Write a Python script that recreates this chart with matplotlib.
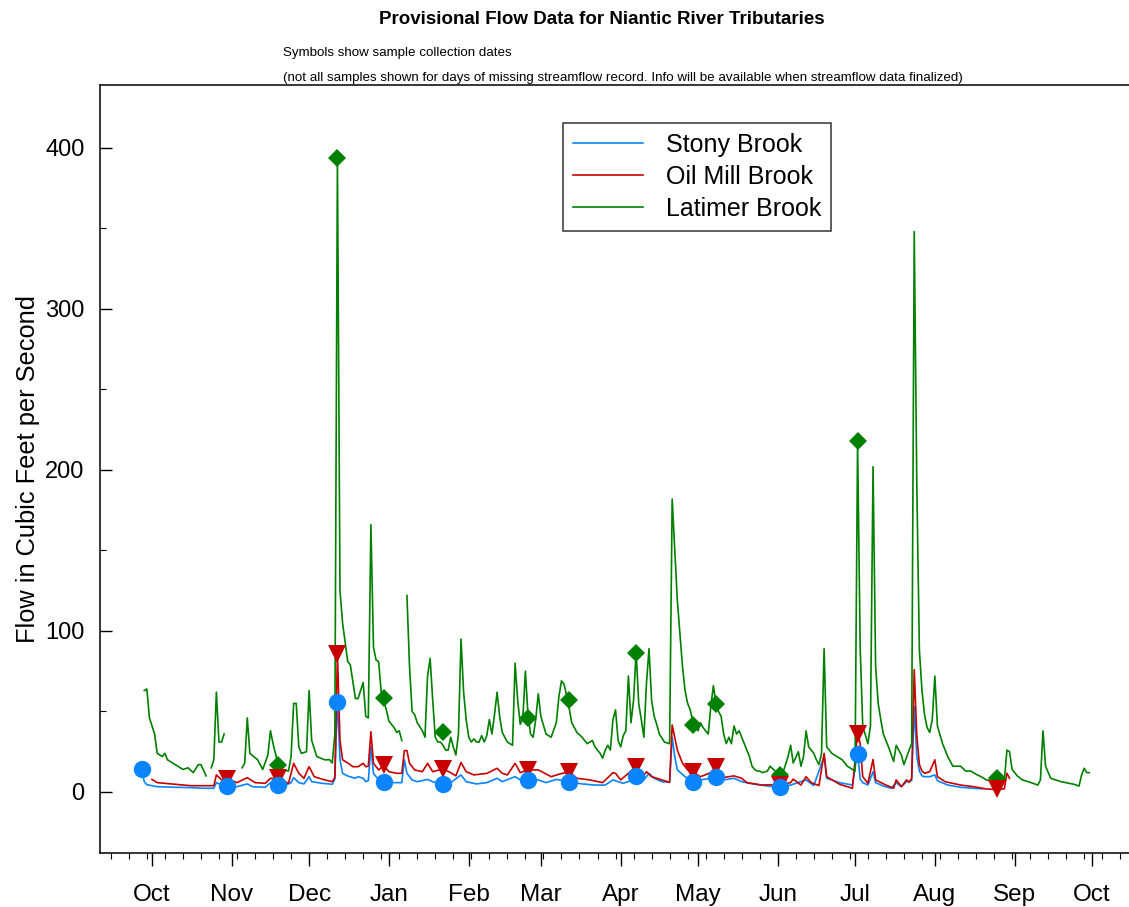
import numpy as np
import matplotlib
matplotlib.use('Agg')
import matplotlib.pyplot as plt
import matplotlib.dates as mdates
from matplotlib.ticker import MultipleLocator
from matplotlib import rcParams
rcParams['font.family'] = ['Liberation Sans', 'DejaVu Sans']

nan = np.nan
start = np.datetime64('2018-10-01')

# daily flow, day offsets from Oct 1
stony_day = [-4, -3, -2, 2, 9, 15, 20, 24, 25, 27, 29, 32, 37, 39, 44, 46, 49, 52, 54, 55,
             57, 59, 61, 62, 66, 70, 71, 72, 73, 74, 76, 79, 80, 82, 83, 84, 85, 86, 88, 90,
             92, 95, 97, 98, 99, 101, 103, 107, 109, 113, 116, 120, 122, 126, 130, 134, 136, 141, 143, 146,
             150, 153, 157, 162, 167, 172, 176, 179, 181, 183, 186, 188, 191, 193, 195, 198, 201, 202, 203, 204,
             207, 210, 213, 219, 222, 226, 229, 234, 241, 244, 248, 254, 257, 261, 262, 267, 272, 274, 275, 276,
             278, 280, 281, 284, 287, 289, 291, 293, 295, 296, 297, 298, 299, 300, 302, 304, 305, 309, 314, 319,
             323]
stony_cfs = [14, 6.4, 4.5, 3.3, 2.9, 2.7, 2.3, 2.3, 5.8, 4.3, 3.7, 2.9, 5.0, 3.3, 2.9, 5.8, 4.3, 4.3, 5.8, 8.9,
             5.8, 5.0, 9.5, 6.4, 5.4, 4.8, 8.0, 58, 20, 11.6, 9.9, 8.5, 9.5, 8.5, 6.4, 7.0, 28, 11.6, 7.5, 6.4,
             5.8, 5.8, 5.8, 20, 11.6, 7.5, 6.4, 7.8, 6.4, 4.8, 5.8, 10.6, 6.4, 5.0, 5.8, 8.5, 6.4, 9.5, 7.5, 7.5,
             7.5, 5.8, 7.8, 6.4, 5.0, 4.3, 4.3, 7.5, 6.4, 5.4, 7.0, 10, 7.5, 11.6, 8.5, 6.4, 6.0, 34, 22, 13.7,
             9.5, 6.4, 7.5, 9.0, 7.5, 8.5, 6.4, 4.8, 3.3, 2.9, 4.3, 7.5, 4.0, 22, 8.5, 5.8, 4.3, 25, 8.0, 5.8,
             4.3, 12.6, 5.8, 3.7, 2.3, 5.8, 3.3, 6.4, 7.0, 53, 22, 13, 10, 9.5, 9.5, 10.6, 7.0, 4.3, 2.9, 2.3,
             1.9]

oil_day = [0, 2, 9, 15, 24, 25, 27, 29, 33, 37, 40, 44, 46, 49, 53, 55, 57, 59, 61, 63,
           67, 70, 71, 72, 73, 74, 76, 78, 80, 82, 83, 84, 85, 86, 88, 90, 92, 95, 97, 98,
           99, 100, 102, 105, 107, 109, 113, 116, 118, 120, 122, 125, 127, 130, 134, 136, 138, 141, 143, 146,
           150, 152, 155, 158, 162, 165, 170, 175, 179, 180, 182, 185, 188, 190, 192, 194, 198, 201, 202, 204,
           206, 208, 210, 213, 217, 219, 222, 226, 229, 231, 237, 241, 244, 248, 249, 252, 254, 256, 259, 261,
           262, 267, 272, 274, 275, 276, 278, 280, 281, 285, 288, 289, 291, 293, 294, 295, 296, 297, 298, 299,
           300, 302, 304, 305, 308, 314, 319, 324, 328, 331, 332, 333]
oil_cfs = [7.8, 5.8, 4.8, 3.9, 3.9, 10.6, 7.5, 8.3, 5.8, 8.9, 5.8, 5.4, 8.5, 8.0, 5.4, 17.8, 11.6, 8.5, 15.7, 9.5,
           7.5, 6.4, 9.0, 86, 32, 20, 18, 15.7, 15.7, 17.8, 15.7, 16, 37.4, 17.8, 13.7, 16.5, 12.6, 11.6, 11.6, 25.7,
           25.7, 17.8, 13.7, 12.6, 17.8, 12.6, 14.3, 12.0, 10.0, 18.3, 12.6, 10.6, 11.0, 11.5, 14.7, 11.6, 10.6, 17.8, 12.0, 13.7,
           13.7, 12.0, 9.5, 11.0, 12.6, 8.5, 7.5, 5.8, 12.0, 11.6, 7.5, 11.6, 15.7, 8.0, 12.6, 9.5, 7.5, 6.0, 41.6, 26,
           17.8, 13.7, 12.3, 9.5, 12, 15.7, 9.0, 10, 8.5, 5.8, 4.3, 4.5, 4.5, 5.8, 8.0, 4.3, 9.5, 5.8, 4.0, 24,
           9.5, 4.8, 2.3, 37, 30, 9.5, 5.4, 20.2, 7.5, 4.3, 2.3, 7.5, 3.3, 7.5, 6.0, 8.5, 76, 35, 17, 13,
           11.6, 12.6, 20, 9.5, 6.4, 4.3, 3.3, 1.9, 1.5, 2.0, 11.6, 8.5]

lat_day = [-3, -2, -1, 1, 2, 4, 5, 6, 8, 10, 12, 14, 16, 18, 19, 21, 22, 23, 24, 25,
           26, 27, 28, 29, 35, 36, 37, 38, 41, 43, 45, 46, 47, 49, 50, 53, 54, 55, 56, 57,
           58, 60, 61, 62, 64, 67, 69, 70, 71, 72, 73, 74, 76, 77, 79, 80, 82, 83, 84, 85,
           86, 87, 88, 89, 91, 92, 94, 95, 96, 97, 98, 99, 100, 101, 102, 103, 105, 106, 107, 108,
           109, 110, 111, 112, 113, 114, 115, 116, 117, 118, 119, 120, 121, 122, 123, 124, 125, 126, 127, 128,
           129, 130, 131, 132, 133, 134, 135, 136, 137, 138, 139, 140, 141, 142, 143, 144, 145, 146, 147, 148,
           149, 150, 151, 153, 155, 157, 158, 159, 160, 161, 162, 163, 165, 167, 169, 171, 172, 174, 175, 176,
           177, 178, 179, 180, 181, 182, 183, 184, 185, 186, 187, 188, 189, 190, 191, 192, 193, 194, 195, 196,
           197, 199, 201, 202, 203, 204, 206, 207, 208, 209, 210, 211, 212, 213, 214, 215, 216, 217, 218, 219,
           220, 221, 222, 223, 224, 225, 226, 227, 228, 229, 230, 232, 233, 234, 235, 236, 237, 239, 240, 242,
           244, 245, 246, 247, 248, 249, 251, 252, 253, 254, 255, 256, 257, 258, 259, 260, 261, 262, 264, 266,
           268, 270, 272, 273, 274, 275, 276, 278, 279, 280, 281, 282, 283, 284, 286, 288, 289, 291, 292, 294,
           295, 296, 297, 298, 299, 300, 301, 302, 303, 304, 305, 307, 309, 311, 314, 316, 318, 320, 322, 324,
           326, 328, 330, 331, 332, 333, 334, 336, 338, 341, 344, 345, 346, 347, 349, 353, 356, 358, 360, 361,
           362, 363, 364]
lat_cfs = [63, 64, 46, 36, 24, 22, 24, 20, 18, 16, 14, 15, 12, 17, 17, 10, nan, 15, 20, 62,
           31, 31, 36, nan, 15, 18, 46, 24, 20, 14, 23, 38, 30, 17, 14, 13, 22, 55, 55, 28,
           24, 25, 63, 32, 22, 20, 20, 18, 36, 393, 125, 105, 81, 79, 58, 58, 68, 47, 46, 166,
           90, 82, 81, 62, 51, 44, 40, 37, 38, 32, nan, 122, 78, 50, 48, 43, 38, 34, 72, 83,
           57, 34, 31, 31, 29, 26, 26, 34, 28, 23, 36, 95, 62, 45, 34, 31, 33, 31, 31, 35,
           31, 35, 45, 36, 48, 62, 47, 37, 34, 31, 30, 29, 80, 57, 42, 46, 75, 48, 36, 34,
           45, 61, 47, 36, 34, 43, 59, 69, 67, 60, 52, 43, 37, 34, 30, 32, 28, 24, 21, 26,
           29, 26, 45, 51, 32, 28, 35, 38, 72, 43, 57, 87, 55, 45, 34, 67, 89, 57, 47, 42,
           36, 31, 30, 182, 150, 119, 78, 63, 55, 51, 44, 40, 38, 43, 40, 38, 36, 53, 66, 55,
           50, 47, 36, 30, 34, 30, 41, 36, 38, 34, 30, 22, 16, 14, 13, 13, 12, 13, 16, 13,
           12, 12, 17, 22, 29, 18, 25, 16, 22, 38, 28, 26, 24, 20, 17, 24, 89, 28, 24, 22,
           20, 16, 14, 13, 217, 90, 41, 30, 41, 202, 78, 55, 45, 36, 28, 19, 29, 23, 17, 26,
           30, 348, 190, 88, 63, 48, 40, 37, 45, 72, 41, 30, 22, 16, 16, 13, 13, 11, 9.5, 7.5,
           7, 8, 7, 7.5, 26, 25, 14, 10, 7.5, 6, 4.3, 7.5, 38, 16, 8.5, 6.4, 5.4, 4.8, 3.7, 10.6,
           14.7, 12, 12]

# sample collection dates
stony_smp_day = [-4, 29, 49, 72, 90, 113, 146, 162, 188, 210, 219, 244, 274]
stony_smp_cfs = [14, 3.7, 4.3, 56, 6.4, 4.8, 7.5, 6.4, 10, 6.4, 9.0, 2.9, 23.6]
oil_smp_day = [29, 49, 72, 90, 113, 146, 162, 188, 210, 219, 244, 274, 328]
oil_smp_cfs = [8.3, 8.4, 86, 16.5, 14.3, 13.7, 12.6, 15.7, 12.3, 15.7, 4.5, 36.3, 1.9]
lat_smp_day = [49, 72, 90, 113, 146, 162, 188, 210, 219, 244, 274, 328]
lat_smp_cfs = [16.8, 394, 58.6, 37.4, 45.8, 57.4, 86.5, 41.6, 54.7, 10.6, 218, 8.7]


def to_dates(days):
	return start + np.array(days).astype('timedelta64[D]')


c_stony = '#0a84ff'
c_oil = '#c80000'
c_lat = '#008000'

fig = plt.figure(figsize=(11.29, 9.07), dpi=100)
ax = fig.add_axes([100/1129, 1-853/907, 1029/1129, 768/907])

ax.plot(to_dates(stony_day), stony_cfs, color=c_stony, lw=1.2, label='Stony Brook', zorder=2)
ax.plot(to_dates(oil_day), oil_cfs, color=c_oil, lw=1.2, label='Oil Mill Brook', zorder=2.1)
ax.plot(to_dates(lat_day), lat_cfs, color=c_lat, lw=1.2, label='Latimer Brook', zorder=2.2)

ax.plot(to_dates(lat_smp_day), lat_smp_cfs, 'D', color=c_lat, ms=9, mew=0, zorder=3)
ax.plot(to_dates(oil_smp_day), oil_smp_cfs, 'v', color=c_oil, ms=13, mew=0, zorder=3.1)
ax.plot(to_dates(stony_smp_day), stony_smp_cfs, 'o', color=c_stony, ms=12.5, mew=0, zorder=3.2)

ax.set_xlim(mdates.date2num(start) - 20.2, mdates.date2num(start) + 379.4)
ax.set_ylim(-37.9, 439.1)

ax.xaxis.set_major_locator(mdates.MonthLocator())
ax.xaxis.set_major_formatter(mdates.DateFormatter('%b'))
ax.xaxis.set_minor_locator(mdates.WeekdayLocator(byweekday=mdates.SA))
ax.yaxis.set_major_locator(MultipleLocator(100))
ax.yaxis.set_minor_locator(MultipleLocator(50))

ax.tick_params(axis='x', which='major', direction='out', length=9, width=1, labelsize=17.5, pad=13)
ax.tick_params(axis='x', which='minor', direction='out', length=4.3, width=0.8)
ax.tick_params(axis='y', which='major', direction='in', length=8.5, width=1, labelsize=17, pad=11)
ax.tick_params(axis='y', which='minor', direction='in', length=4.3, width=0.8)
ax.spines['right'].set_visible(False)
for s in ['left', 'top', 'bottom']:
	ax.spines[s].set_linewidth(1.1)

ax.set_ylabel('Flow in Cubic Feet per Second', fontsize=18.3)
ax.yaxis.set_label_coords(-0.058, 0.5)

leg = ax.legend(loc='upper left', bbox_to_anchor=(563/1129, 1-123/907), bbox_transform=fig.transFigure,
	fontsize=18, frameon=True, fancybox=False, edgecolor='black', handlelength=2.8,
	handletextpad=0.92, labelspacing=0.32, borderpad=0.4, borderaxespad=0)
leg.get_frame().set_linewidth(1.1)

fig.text(602/1129, 1-19/907, 'Provisional Flow Data for Niantic River Tributaries',
	ha='center', va='center', fontsize=13.5, fontweight='bold')
fig.text(283/1129, 1-53/907, 'Symbols show sample collection dates', ha='left', va='center', fontsize=9.6)
fig.text(283/1129, 1-78/907, '(not all samples shown for days of missing streamflow record. Info will be available when streamflow data finalized)',
	ha='left', va='center', fontsize=9.6)

fig.savefig('out.png', dpi=100)
